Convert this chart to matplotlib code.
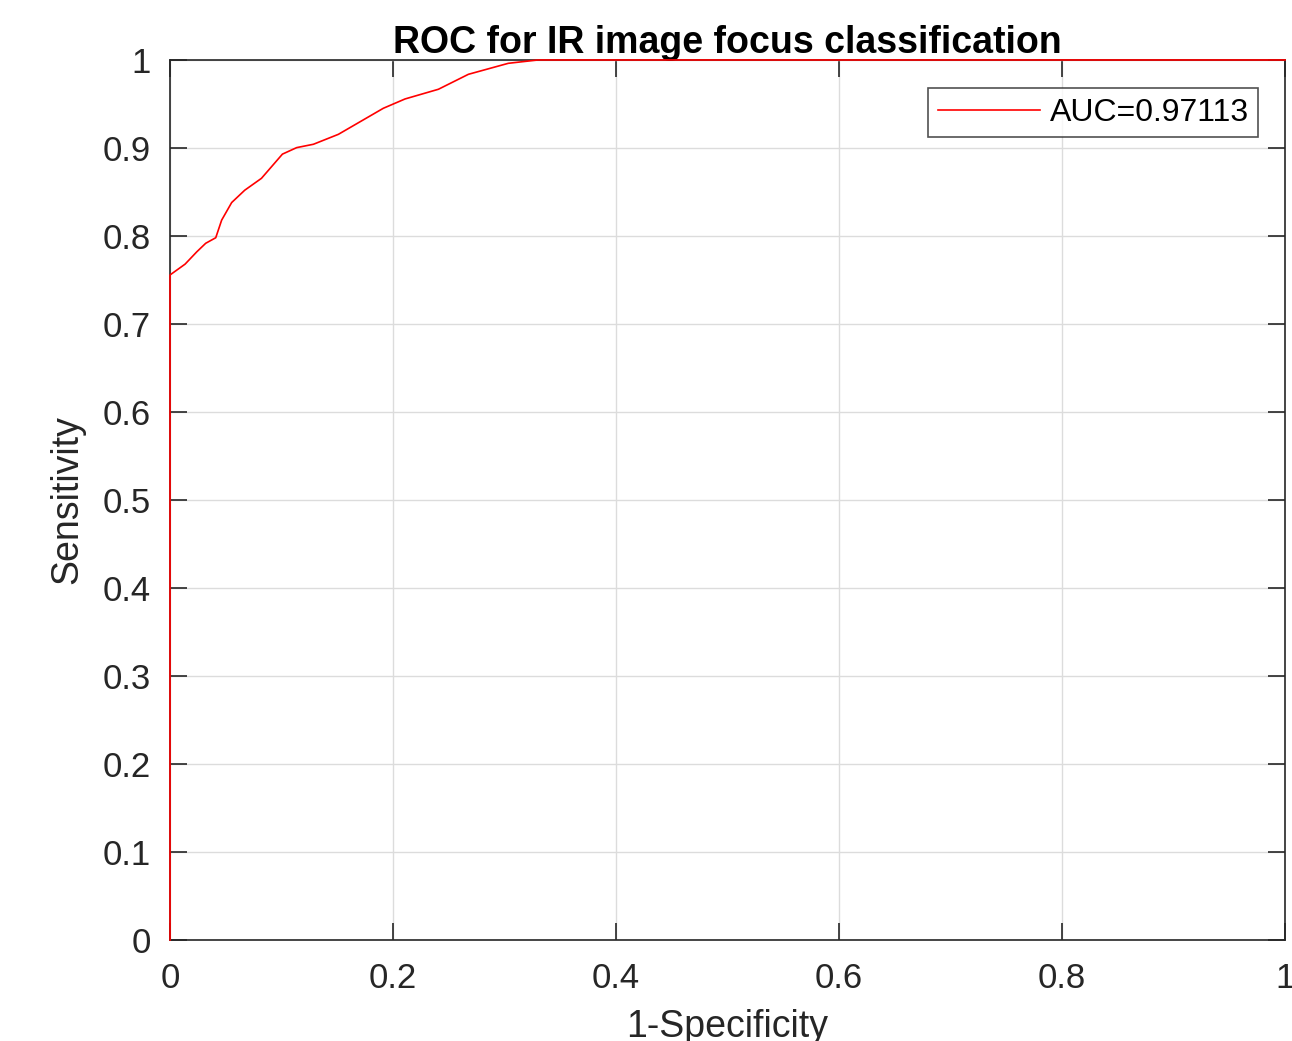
import matplotlib.pyplot as plt

plt.rcParams['font.family'] = ['Liberation Sans', 'DejaVu Sans']

# ROC curve points
fpr = [0.0, 0.0, 0.0135, 0.024, 0.032, 0.041, 0.0463, 0.0553, 0.067, 0.082,
       0.1008, 0.1136, 0.1286, 0.151, 0.1913, 0.2108, 0.2407, 0.2676,
       0.3034, 0.33, 1.0]
tpr = [0.0, 0.7557, 0.768, 0.782, 0.7917, 0.798, 0.818, 0.838, 0.852, 0.8655,
       0.893, 0.9004, 0.9042, 0.9155, 0.9451, 0.9557, 0.9667, 0.9837,
       0.9962, 1.0, 1.0]
auc = 0.97113
ticks = [0, 0.1, 0.2, 0.3, 0.4, 0.5, 0.6, 0.7, 0.8, 0.9, 1]
xticks = [0, 0.2, 0.4, 0.6, 0.8, 1]

fig = plt.figure(figsize=(12.92, 10.41), dpi=100)
ax = fig.add_axes([0.1316, 0.097, 0.863, 0.8454])

ax.plot(fpr, tpr, color='red', linewidth=1.2, label='AUC=%.5f' % auc,
        zorder=5, clip_on=False)
ax.set_xlim(0, 1)
ax.set_ylim(0, 1)
ax.set_xticks(xticks)
ax.set_yticks(ticks)
ax.set_xticklabels(['0', '0.2', '0.4', '0.6', '0.8', '1'])
ax.set_yticklabels(['0', '0.1', '0.2', '0.3', '0.4', '0.5', '0.6', '0.7', '0.8', '0.9', '1'])
ax.grid(True, color='#dcdcdc', linewidth=1.0)
ax.set_axisbelow(True)
ax.tick_params(direction='in', length=12, width=1.2, colors='#262626',
               labelsize=25, top=True, right=True)
ax.tick_params(axis='y', pad=14)
ax.tick_params(axis='x', pad=16)
for s in ax.spines.values():
    s.set_color('#262626')
    s.set_linewidth(1.2)

ax.set_title('ROC for IR image focus classification', fontsize=27,
             fontweight='bold', pad=5)
ax.set_xlabel('1-Specificity', fontsize=27, color='#262626', labelpad=10)
ax.set_ylabel('Sensitivity', fontsize=27, color='#262626', labelpad=12)

leg = ax.legend(loc='upper right', fontsize=23, frameon=True, fancybox=False,
                handlelength=3.2, handletextpad=0.3, borderpad=0.3,
                borderaxespad=0, bbox_to_anchor=(0.976, 0.968))
leg.get_frame().set_edgecolor('#262626')
leg.get_frame().set_linewidth(1.2)

fig.savefig('out.png', dpi=100)
